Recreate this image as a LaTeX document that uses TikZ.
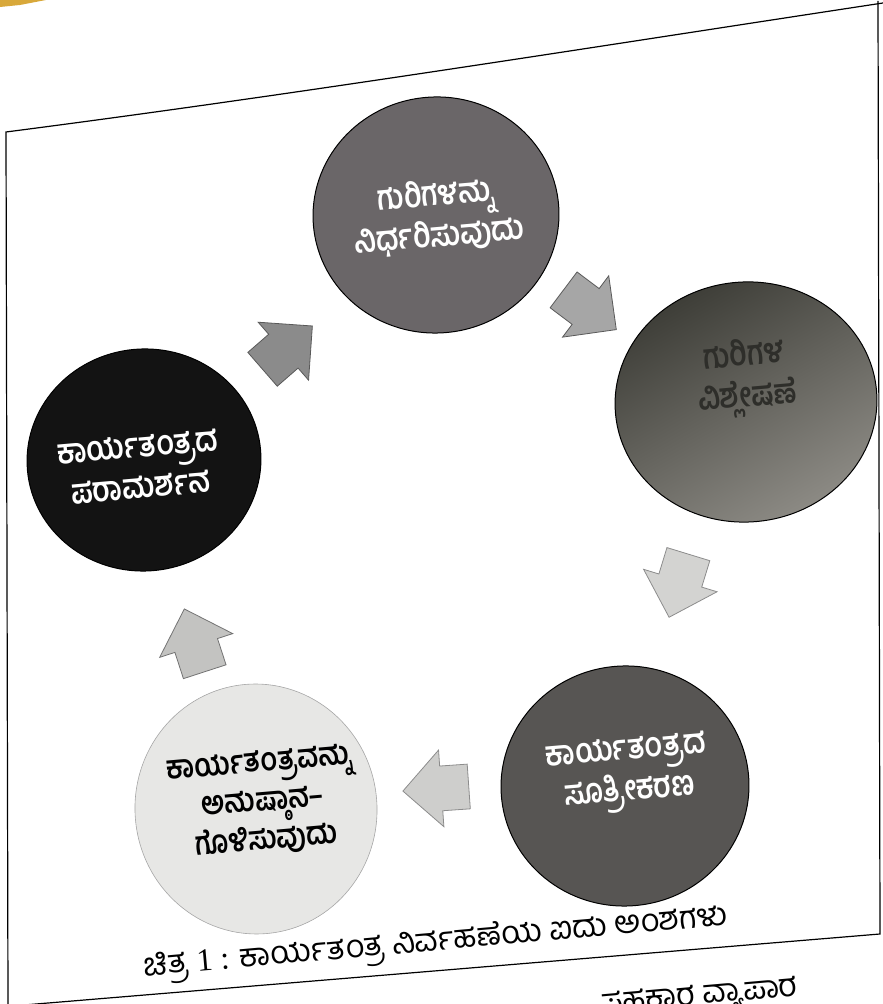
\documentclass[tikz,border=0pt]{standalone}
\usepackage{graphicx}
\usepackage{fontspec}
\setmainfont{Liberation Serif}
\newfontfamily\kannada[Script=Kannada]{Hind Mysuru}
\usetikzlibrary{shapes.geometric,shapes.arrows}
\newcommand{\tallline}[1]{\scalebox{1}[1.2]{#1}}

\definecolor{goalgray}{HTML}{6A6668}
\definecolor{analysisdark}{HTML}{3C3C36}
\definecolor{analysislight}{HTML}{8E8C86}
\definecolor{analysistext}{HTML}{2E2E2A}
\definecolor{formgray}{HTML}{575553}
\definecolor{implgray}{HTML}{E7E7E5}
\definecolor{reviewblack}{HTML}{131313}
\definecolor{arrowA}{HTML}{8B8B8B}
\definecolor{arrowB}{HTML}{A6A6A6}
\definecolor{arrowC}{HTML}{D3D3D1}
\definecolor{arrowD}{HTML}{CECECC}
\definecolor{arrowE}{HTML}{C3C3C1}
\definecolor{pagegold}{HTML}{D8A83A}

\begin{document}
\begin{tikzpicture}[x=1pt,y=1pt,
  stage/.style={ellipse,draw=black,line width=1pt,inner sep=0pt,rotate=5},
  stagetext/.style={align=center,rotate=5,inner sep=0pt,
    font=\kannada\bfseries\fontsize{28.5}{41}\selectfont},
  blockarrow/.style={single arrow,draw=black!65,line width=0.8pt,inner xsep=0pt,
    inner ysep=22pt,minimum height=66pt,single arrow head extend=16pt,
    single arrow tip angle=90}]
\useasboundingbox (0,0) rectangle (883,1004);
\clip (0,0) rectangle (883,1004);
% page edge and frame
\fill[pagegold] (0,1004) -- (46,1004) -- (20,999) -- (0,997) -- cycle;
\draw[line width=1.2pt] (8,0) -- (6,872) .. controls (300,910) and (600,958) .. (883,1001);
\draw[line width=1.2pt] (878,1003) -- (880,70) -- (0,-3);
% the five stages
\node[stage,fill=goalgray,minimum width=246pt,minimum height=236pt] (goals) at (436,789) {};
\node[stage,top color=analysisdark,bottom color=analysislight,shading angle=30,
  minimum width=262pt,minimum height=240pt] (analysis) at (746,602) {};
\node[stage,fill=formgray,minimum width=248pt,minimum height=240pt] (formulate) at (625,218) {};
\node[stage,fill=implgray,draw=black!35,line width=0.6pt,minimum width=242pt,
  minimum height=250pt] (implement) at (256,195) {};
\node[stage,fill=reviewblack,minimum width=234pt,minimum height=222pt] (review) at (144,544) {};
%
\node[stagetext,text=white] (goalstext) at (438,788)
  {\tallline{ಗುರಿಗಳನ್ನು}\\\tallline{ನಿರ್ಧರಿಸುವುದು}};
\node[stagetext,text=analysistext] (analysistext) at (746,626)
  {\tallline{ಗುರಿಗಳ}\\\tallline{ವಿಶ್ಲೇಷಣೆ}};
\node[stagetext,text=white] (formulatetext) at (628,229)
  {\tallline{ಕಾರ್ಯತಂತ್ರದ}\\\tallline{ಸೂತ್ರೀಕರಣ}};
\node[stagetext,text=black,font=\kannada\bfseries\fontsize{27}{39}\selectfont]
  (implementtext) at (263,201)
  {\tallline{ಕಾರ್ಯತಂತ್ರವನ್ನು}\\\tallline{ಅನುಷ್ಠಾನ–}\\\tallline{ಗೊಳಿಸುವುದು}};
\node[stagetext,text=white] (reviewtext) at (139,537)
  {\tallline{ಕಾರ್ಯತಂತ್ರದ}\\\tallline{ಪರಾಮರ್ಶನ}};
% arrows between the stages
\node[blockarrow,fill=arrowA,rotate=41] (arrowone) at (279,649) {};
\node[blockarrow,fill=arrowB,rotate=-37] (arrowtwo) at (581,701) {};
\node[blockarrow,fill=arrowC,draw=black!45,rotate=-107] (arrowthree) at (682,429) {};
\node[blockarrow,fill=arrowD,draw=black!45,rotate=184] (arrowfour) at (447,216) {};
\node[blockarrow,fill=arrowE,draw=black!55,rotate=108] (arrowfive) at (198,353) {};
%
\node[font=\fontsize{32}{36}\selectfont,rotate=5] (caption) at (436,60)
  {{\kannada ಚಿತ್ರ} 1 : {\kannada ಕಾರ್ಯತಂತ್ರ ನಿರ್ವಹಣೆಯ ಐದು ಅಂಶಗಳು}};
\node[font=\kannada\fontsize{32}{36}\selectfont,rotate=5] (nextline) at (700,4)
  {ಸಹಕಾರ ವ್ಯಾಪಾರ};
\end{tikzpicture}
\end{document}
